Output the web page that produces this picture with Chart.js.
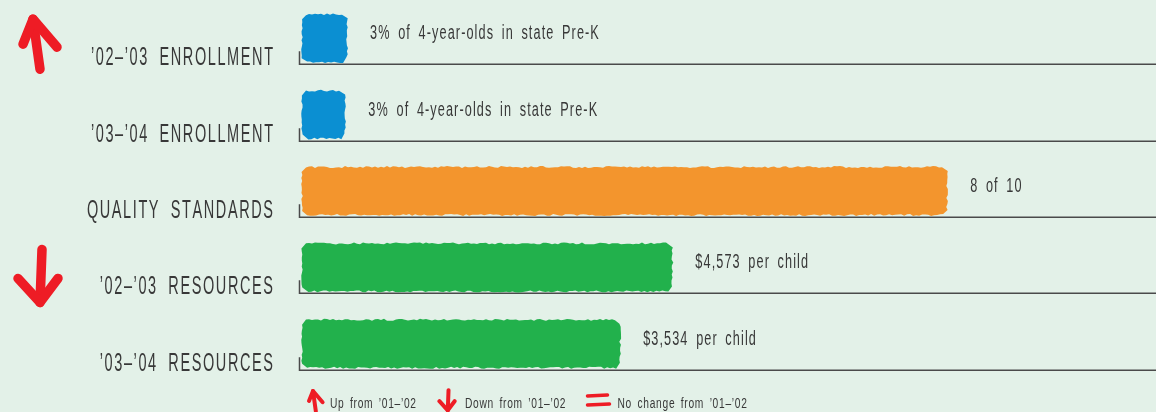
<!DOCTYPE html>
<html>
<head>
<meta charset="utf-8">
<script src="https://cdn.jsdelivr.net/npm/chart.js@4.4.1/dist/chart.umd.min.js"></script>
<style>
  html, body { margin: 0; padding: 0; background: #e3f1e8; }
  #wrap { width: 1156px; height: 412px; }
</style>
</head>
<body>
<div id="wrap"><canvas id="chart" width="1156" height="412"></canvas></div>
<script>
// data
const categories = ['’02–’03 ENROLLMENT', '’03–’04 ENROLLMENT', 'QUALITY STANDARDS', '’02–’03 RESOURCES', '’03–’04 RESOURCES'];
// bar length as a share (%) of the plot width
const barLengths = [5.5, 5.3, 75.6, 43.5, 37.4];
const valueLabels = ['3% of 4-year-olds in state Pre-K', '3% of 4-year-olds in state Pre-K', '8 of 10', '$4,573 per child', '$3,534 per child'];
const barColors = ['#0b8fd2', '#0b8fd2', '#f3952d', '#22b14c', '#22b14c'];
const trends = ['up', null, null, 'down', null];
const legendIcons = ['up', 'down', 'same'];
const legendLabels = ['Up from ’01–’02', 'Down from ’01–’02', 'No change from ’01–’02'];

const BG = '#e3f1e8';
const TEXT = '#383838';
const RED = '#ee1c25';
const FONT = '"Liberation Sans", Arial, sans-serif';

// condensed, letter-spaced text (squeezed horizontally), wider word gaps
function spacedText(ctx, str, x, y, size, sx, gap, wordGap, align) {
    ctx.font = size + 'px ' + FONT;
    ctx.textAlign = 'left';
    ctx.textBaseline = 'alphabetic';
    const chars = Array.from(str);
    const ws = chars.map(ch => ctx.measureText(ch).width * sx + (ch === ' ' ? wordGap : 0));
    const w = ws.reduce((a, b) => a + b, 0) + gap * (chars.length - 1);
    let cx = align === 'right' ? x - w : x;
    chars.forEach((ch, i) => {
        ctx.save(); ctx.translate(cx, y); ctx.scale(sx, 1); ctx.fillText(ch, 0, 0); ctx.restore();
        cx += ws[i] + gap;
    });
    return w;
}

// fixed wobble for the crayon edges
function jit(n) { const s = Math.sin(n * 12.9898 + 4.1) * 43758.5453; return s - Math.floor(s) - 0.5; }

function roughBar(ctx, l, r, t, b, seed) {
    const pts = [];
    const step = 3;
    for (let x = l + 4; x <= r - 4; x += step) pts.push([x, t + jit(seed + x) * 2]);
    for (let y = t + 4; y <= b - 4; y += step) pts.push([r + jit(seed + y * 3.1) * 2, y]);
    for (let x = r - 4; x >= l + 4; x -= step) pts.push([x, b + jit(seed + x * 1.7) * 2]);
    for (let y = b - 4; y >= t + 4; y -= step) pts.push([l + jit(seed + y * 2.3) * 1.6, y]);
    ctx.beginPath();
    pts.forEach((p, i) => i ? ctx.lineTo(p[0], p[1]) : ctx.moveTo(p[0], p[1]));
    ctx.closePath();
    ctx.fill();
}

function drawArrow(ctx, x, y, s, dir, lw) {
    const P = dir === 'up'
        ? [[[-5, -19], [2, 31]], [[-15, 6], [-5, -19], [19, 9]]]
        : [[[4, -18], [2, 35]], [[-20, 11], [2, 35], [20, 11]]];
    ctx.save();
    ctx.strokeStyle = RED; ctx.lineWidth = lw; ctx.lineCap = 'round'; ctx.lineJoin = 'round';
    P.forEach(line => {
        ctx.beginPath();
        line.forEach((p, i) => {
            const px = x + p[0] * s, py = y + p[1] * s;
            i ? ctx.lineTo(px, py) : ctx.moveTo(px, py);
        });
        ctx.stroke();
    });
    ctx.restore();
}

function drawEquals(ctx, l, r, y, lw) {
    ctx.save();
    ctx.strokeStyle = RED; ctx.lineWidth = lw; ctx.lineCap = 'round';
    ctx.beginPath(); ctx.moveTo(l, y - 4); ctx.lineTo(r - 2, y - 5); ctx.stroke();
    ctx.beginPath(); ctx.moveTo(l, y + 5); ctx.lineTo(r, y + 4); ctx.stroke();
    ctx.restore();
}

const sketchPlugin = {
    id: 'sketch',
    beforeDraw(chart) {
        const ctx = chart.ctx;
        ctx.save(); ctx.fillStyle = BG; ctx.fillRect(0, 0, chart.width, chart.height); ctx.restore();
    },
    beforeDatasetsDraw(chart) {
        const ctx = chart.ctx;
        const yScale = chart.scales.y;
        const x0 = chart.chartArea.left - 1;
        // baselines with the little tick on the left
        ctx.save();
        ctx.strokeStyle = '#4a4a4a'; ctx.lineWidth = 1.5;
        categories.forEach((c, i) => {
            const by = Math.round(yScale.getPixelForValue(i) + 26) + 0.25;
            ctx.beginPath();
            ctx.moveTo(x0 + 0.5, by - 13); ctx.lineTo(x0 + 0.5, by); ctx.lineTo(chart.width, by);
            ctx.stroke();
        });
        // bars drawn from the library's own element geometry
        const meta = chart.getDatasetMeta(0);
        meta.data.forEach((el, i) => {
            const p = el.getProps(['x', 'y', 'base', 'height'], true);
            ctx.fillStyle = barColors[i];
            roughBar(ctx, p.base + 2, p.x, p.y - p.height / 2, p.y + p.height / 2, i * 97);
        });
        ctx.restore();
        return false;
    },
    afterDraw(chart) {
        const ctx = chart.ctx;
        const yScale = chart.scales.y;
        const meta = chart.getDatasetMeta(0);
        ctx.save();
        ctx.fillStyle = TEXT;
        categories.forEach((c, i) => {
            const cy = yScale.getPixelForValue(i);
            spacedText(ctx, c, 273, cy + 27, 25, 0.58, 1.6, 5, 'right');
            const el = meta.data[i];
            spacedText(ctx, valueLabels[i], el.x + 23, cy + 1, 19.5, 0.65, 1.1, 3, 'left');
            if (trends[i]) drawArrow(ctx, 38, cy, 1, trends[i], 9.5);
        });

        // legend along the bottom
        const iconW = { up: 17, down: 20, same: 23 };
        let lx = 305;
        legendIcons.forEach((ic, i) => {
            if (ic === 'up') drawArrow(ctx, lx + 10, 398.6, 0.4, 'up', 4);
            else if (ic === 'down') drawArrow(ctx, lx + 10, 397, 0.38, 'down', 4);
            else drawEquals(ctx, lx + 1, lx + iconW[ic], 400, 3.5);
            lx += iconW[ic] + 8;
            ctx.fillStyle = TEXT;
            lx += spacedText(ctx, legendLabels[i], lx, 408, 15.5, 0.66, 0.7, 2, 'left') + 21;
        });
        ctx.restore();
    }
};

const canvas = document.getElementById('chart');
new Chart(canvas.getContext('2d'), {
    type: 'bar',
    data: {
        labels: categories,
        datasets: [{
            data: barLengths,
            backgroundColor: barColors,
            barThickness: 48
        }]
    },
    options: {
        indexAxis: 'y',
        responsive: false,
        animation: false,
        devicePixelRatio: 1,
        layout: { padding: { left: 300, right: 0, top: -2, bottom: 30 } },
        scales: {
            x: { display: false, min: 0, max: 100 },
            y: { display: false, offset: true }
        },
        plugins: {
            legend: { display: false },
            tooltip: { enabled: false }
        }
    },
    plugins: [sketchPlugin]
});
</script>
</body>
</html>
